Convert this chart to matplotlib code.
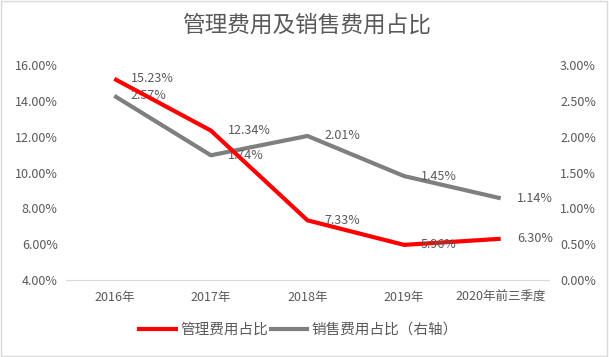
import matplotlib
matplotlib.use("Agg")
import matplotlib.pyplot as plt
from matplotlib.lines import Line2D
from matplotlib.patches import Rectangle

plt.rcParams['font.family'] = ['Noto Sans CJK SC', 'DejaVu Sans']

categories = ["2016年", "2017年", "2018年", "2019年", "2020年前三季度"]
mgmt = [15.23, 12.34, 7.33, 5.96, 6.30]
sales = [2.57, 1.74, 2.01, 1.45, 1.14]
left_ticks = [4, 6, 8, 10, 12, 14, 16]
right_ticks = [0, 0.5, 1.0, 1.5, 2.0, 2.5, 3.0]

title = "管理费用及销售费用占比"
label_mgmt = "管理费用占比"
label_sales = "销售费用占比（右轴）"

txt = "#595959"
red = "#FF0000"
gray = "#7F7F7F"

fig = plt.figure(figsize=(6.09, 3.57), dpi=100)
fig.patches.append(Rectangle((0.002, 0.003), 0.995, 0.993, transform=fig.transFigure,
                             fill=False, edgecolor="#D9D9D9", linewidth=1))

ax = fig.add_axes([66/609, 1-280/357, (549-66)/609, (280-65)/357])
ax2 = ax.twinx()

x = list(range(len(categories)))
ax.plot(x, mgmt, color=red, linewidth=3, solid_capstyle='butt', zorder=3)
ax2.plot(x, sales, color=gray, linewidth=3, solid_capstyle='butt', zorder=2)

ax.set_xlim(-0.5, len(categories)-0.5)
ax.set_ylim(4, 16)
ax2.set_ylim(0, 3)
ax.set_yticks(left_ticks)
ax.set_yticklabels([f"{v:.2f}%" for v in left_ticks])
ax2.set_yticks(right_ticks)
ax2.set_yticklabels([f"{v:.2f}%" for v in right_ticks])
ax.set_xticks(x)
ax.set_xticklabels(categories)

for a in (ax, ax2):
    for s in ('top', 'left', 'right'):
        a.spines[s].set_visible(False)
    a.spines['bottom'].set_color("#D9D9D9")
    a.tick_params(length=0, colors=txt, labelsize=9)
ax2.spines['bottom'].set_visible(False)
ax.tick_params(axis='x', pad=8)
ax.tick_params(axis='y', pad=6)
ax2.tick_params(axis='y', pad=8)
ax.set_zorder(ax2.get_zorder()+1)
ax.patch.set_visible(False)

for xi, v in zip(x, mgmt):
    ax.annotate(f"{v:.2f}%", (xi, v), xytext=(12, 0), textcoords='offset points',
                ha='left', va='center', fontsize=9, color=txt, zorder=5)
for xi, v in zip(x, sales):
    ax2.annotate(f"{v:.2f}%", (xi, v), xytext=(12, 0), textcoords='offset points',
                 ha='left', va='center', fontsize=9, color=txt, zorder=5)

fig.text(0.5035, 1-25/357, title, ha='center', va='center', fontsize=16.3, color=txt)

handles = [Line2D([], [], color=red, linewidth=3), Line2D([], [], color=gray, linewidth=3)]
fig.legend(handles, [label_mgmt, label_sales], loc='center', bbox_to_anchor=(0.49, 1-330/357),
           ncol=2, frameon=False, fontsize=10.5, labelcolor=txt, handlelength=2.5,
           handletextpad=0.3, columnspacing=0.2)

fig.savefig("out.png", dpi=100)
